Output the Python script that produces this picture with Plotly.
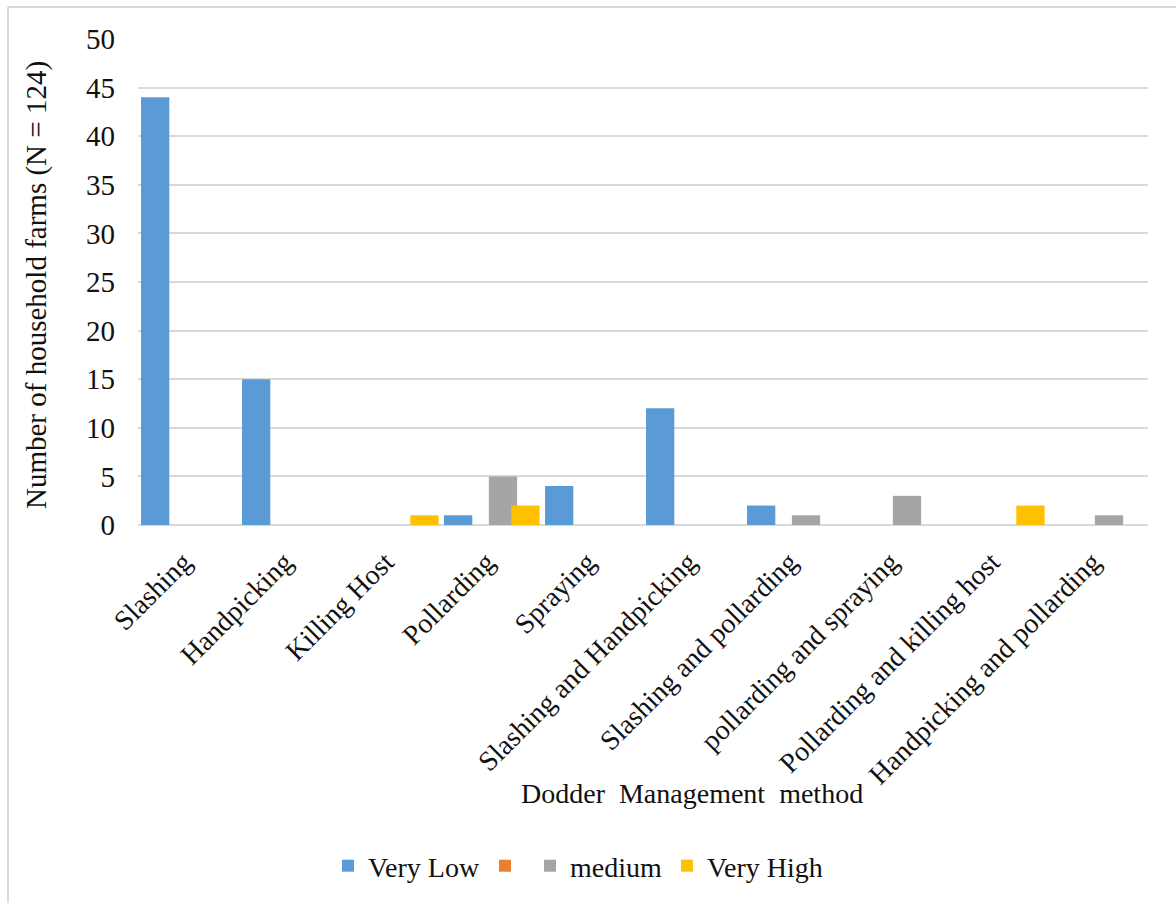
import plotly.graph_objects as go

# Dodder management methods and household counts per severity level
categories = [
    "Slashing", "Handpicking", "Killing Host", "Pollarding", "Spraying",
    "Slashing and Handpicking", "Slashing and pollarding",
    "pollarding and spraying", "Pollarding and killing host",
    "Handpicking and pollarding",
]
very_low = [44, 15, 0, 1, 4, 12, 2, 0, 0, 0]
unnamed = [0, 0, 0, 0, 0, 0, 0, 0, 0, 0]
medium = [0, 0, 0, 5, 0, 0, 1, 3, 0, 1]
very_high = [0, 0, 1, 2, 0, 0, 0, 0, 2, 0]

series_names = ["Very Low", "", "medium", "Very High"]
series_values = [very_low, unnamed, medium, very_high]
colors = ["#5B9BD5", "#ED7D31", "#A5A5A5", "#FFC000"]

FONT = "Liberation Serif, Times New Roman, serif"
INK = "#111111"

W, H = 1176, 903
L, R, T, B = 138, 28, 39, 378
plot_w = W - L - R
plot_h = H - T - B

fig = go.Figure()
bar_w = 0.28
step = 0.222
for i, (nm, vals, col) in enumerate(zip(series_names, series_values, colors)):
    fig.add_trace(go.Bar(
        x=categories, y=vals, name=nm,
        marker=dict(color=col, line=dict(width=0)),
        width=bar_w, offset=-0.47 + i * step,
    ))

def px_x(p):
    return (p - L) / plot_w

def px_y(p):
    return (H - B - p) / plot_h

fig.update_layout(
    width=W, height=H,
    margin=dict(l=L, r=R, t=T, b=B, autoexpand=False),
    barmode="overlay",
    plot_bgcolor="white", paper_bgcolor="white",
    font=dict(family=FONT, size=28, color=INK),
    showlegend=True,
    legend=dict(
        orientation="h", xanchor="center", yanchor="middle",
        x=px_x(578), y=px_y(866),
        font=dict(family=FONT, size=28, color=INK),
        itemwidth=30, traceorder="normal",
    ),
    xaxis=dict(
        type="category", tickangle=-45, showgrid=False,
        showline=False, ticks="",
        ticklabelstandoff=14, ticklabelshift=-5,
        tickfont=dict(family=FONT, size=28, color=INK),
        range=[-0.5, len(categories) - 0.5],
    ),
    yaxis=dict(
        range=[0, 50], dtick=5, showgrid=True,
        gridcolor="#D9D9D9", gridwidth=2,
        zeroline=True, zerolinecolor="#D9D9D9", zerolinewidth=2,
        showline=False, ticks="", ticklabelstandoff=22,
        tickfont=dict(family=FONT, size=29, color=INK),
    ),
    annotations=[
        dict(text="Dodder&nbsp; Management&nbsp; method", xref="paper", yref="paper",
             x=px_x(692), y=px_y(793), xanchor="center", yanchor="middle",
             showarrow=False, font=dict(family=FONT, size=28, color=INK)),
        dict(text="Number of household farms (N = 124)", xref="paper", yref="paper",
             x=px_x(36), y=px_y(285), xanchor="center", yanchor="middle",
             textangle=-90, showarrow=False,
             font=dict(family=FONT, size=29, color=INK)),
    ],
    shapes=[
        dict(type="line", xref="paper", yref="paper",
             x0=px_x(8), x1=px_x(8), y0=px_y(7), y1=px_y(910),
             line=dict(color="#D9D9D9", width=2)),
        dict(type="line", xref="paper", yref="paper",
             x0=px_x(8), x1=px_x(1180), y0=px_y(7), y1=px_y(7),
             line=dict(color="#D9D9D9", width=2)),
    ],
)

fig.write_html("out.html")
